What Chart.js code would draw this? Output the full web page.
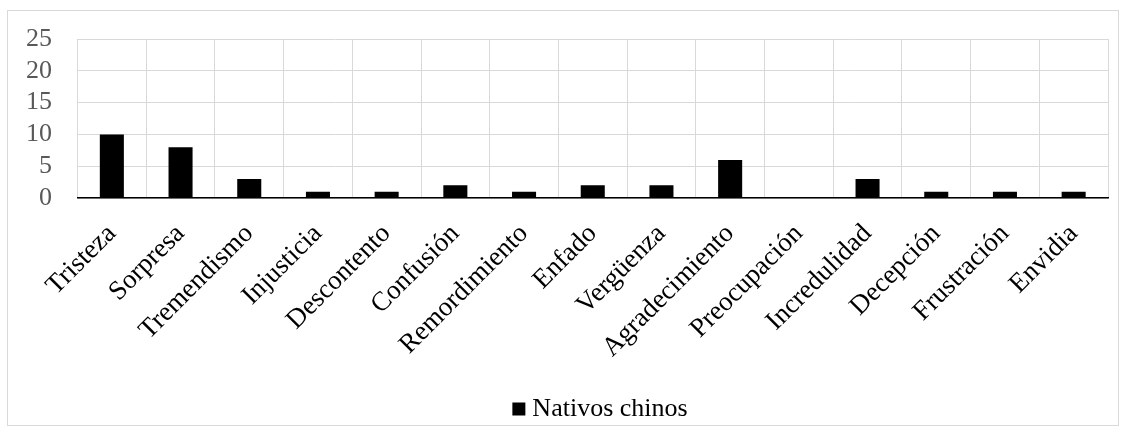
<!DOCTYPE html>
<html>
<head>
<meta charset="utf-8">
<script src="https://cdn.jsdelivr.net/npm/chart.js@4"></script>
<style>
    html, body { margin: 0; padding: 0; background: #fff; }
    #cadre {
        position: absolute;
        left: 7px; top: 10px;
        width: 1110px; height: 414px;
        border: 1px solid #d9d9d9;
    }
</style>
</head>
<body>
<div id="cadre"><canvas id="emociones"></canvas></div>
<script>
// Emociones citadas por los nativos chinos
const emociones = ['Tristeza', 'Sorpresa', 'Tremendismo', 'Injusticia', 'Descontento', 'Confusión',
    'Remordimiento', 'Enfado', 'Vergüenza', 'Agradecimiento', 'Preocupación', 'Incredulidad',
    'Decepción', 'Frustración', 'Envidia'];
const nativosChinos = [10, 8, 3, 1, 1, 2, 1, 2, 2, 6, 0, 3, 1, 1, 1];
const ticksY = [0, 5, 10, 15, 20, 25];

const fuente = "'Liberation Serif', 'Times New Roman', serif";
const gris = '#d9d9d9';

// la leyenda va un poco a la derecha del centro y más abajo
const moverLeyenda = {
    id: 'moverLeyenda',
    afterLayout(chart) {
        const l = chart.legend;
        l.left += 39;
        l.right += 39;
        l.top += 7;
        l.bottom += 7;
    }
};

new Chart(document.getElementById('emociones').getContext('2d'), {
    type: 'bar',
    data: {
        labels: emociones,
        datasets: [{
            label: 'Nativos chinos',
            data: nativosChinos,
            backgroundColor: '#000',
            borderWidth: 0,
            barPercentage: 0.7,
            categoryPercentage: 0.5
        }]
    },
    plugins: [moverLeyenda],
    options: {
        responsive: true,
        maintainAspectRatio: false,
        animation: false,
        layout: { padding: { left: 12, right: 10, top: 28, bottom: 0 } },
        plugins: {
            legend: {
                position: 'bottom',
                labels: {
                    color: '#000',
                    font: { family: fuente, size: 26 },
                    usePointStyle: true,
                    pointStyle: 'rect',
                    boxWidth: 1,
                    boxHeight: 13,
                    padding: 2
                }
            },
            tooltip: { enabled: false }
        },
        scales: {
            x: {
                grid: { color: gris, lineWidth: 1, offset: true, drawTicks: false },
                border: { color: '#000', width: 1.5 },
                ticks: {
                    color: '#000',
                    font: { family: fuente, size: 27 },
                    maxRotation: 45,
                    minRotation: 45,
                    padding: 20,
                    autoSkip: false
                },
                afterFit: function (scale) {
                    scale.height += 3;
                }
            },
            y: {
                min: 0,
                max: 25,
                afterBuildTicks: function (scale) {
                    scale.ticks = ticksY.map(v => ({ value: v }));
                },
                grid: { color: gris, lineWidth: 1, drawTicks: false },
                border: { display: false },
                ticks: {
                    color: '#595959',
                    font: { family: fuente, size: 26 },
                    padding: 6,
                    autoSkip: false,
                    // espacios finales para separar las cifras del eje
                    callback: v => v + '   '
                }
            }
        }
    }
});
</script>
</body>
</html>
